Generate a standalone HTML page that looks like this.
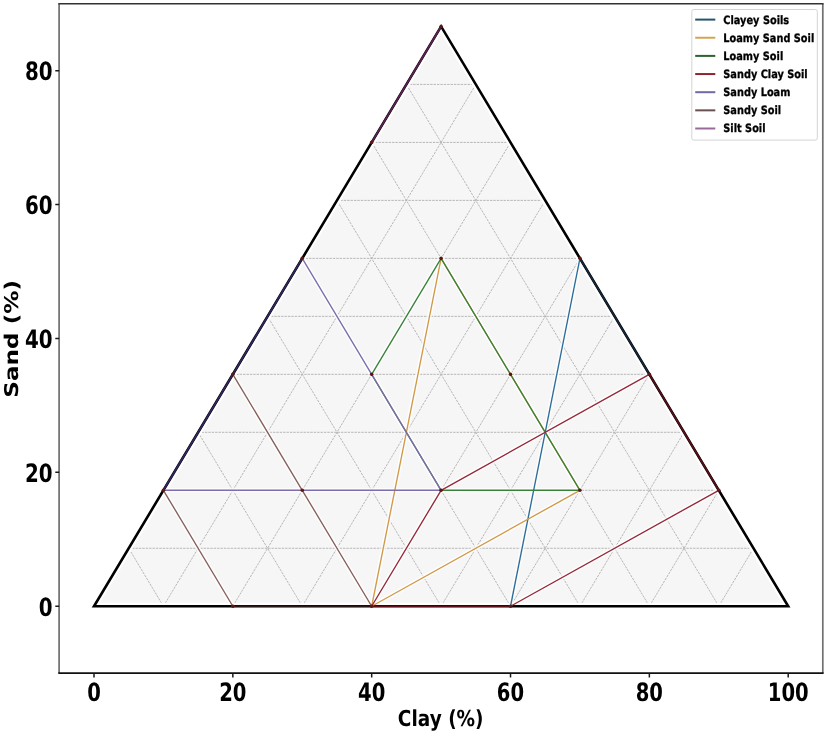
<!DOCTYPE html>
<html><head><meta charset="utf-8"><title>Soil Texture Triangle</title>
<style>html,body{margin:0;padding:0;background:#fff;}svg{display:block;}</style>
</head><body>
<svg width="827" height="735" viewBox="0 0 827 735">
<rect x="0" y="0" width="827" height="735" fill="#ffffff"/>
<polygon points="94.00,606.25 788.20,606.25 441.10,26.45" fill="#f6f6f6" stroke="none"/>
<path d="M128.71 548.27L753.49 548.27M163.42 606.25L475.81 84.43M163.42 606.25L128.71 548.27M163.42 490.29L718.78 490.29M232.84 606.25L510.52 142.41M232.84 606.25L163.42 490.29M198.13 432.31L684.07 432.31M302.26 606.25L545.23 200.39M302.26 606.25L198.13 432.31M232.84 374.33L649.36 374.33M371.68 606.25L579.94 258.37M371.68 606.25L232.84 374.33M267.55 316.35L614.65 316.35M441.10 606.25L614.65 316.35M441.10 606.25L267.55 316.35M302.26 258.37L579.94 258.37M510.52 606.25L649.36 374.33M510.52 606.25L302.26 258.37M336.97 200.39L545.23 200.39M579.94 606.25L684.07 432.31M579.94 606.25L336.97 200.39M371.68 142.41L510.52 142.41M649.36 606.25L718.78 490.29M649.36 606.25L371.68 142.41M406.39 84.43L475.81 84.43M718.78 606.25L753.49 548.27M718.78 606.25L406.39 84.43" fill="none" stroke="#b0b0b0" stroke-width="1.0" stroke-dasharray="2.4 1.0" stroke-opacity="0.9"/>
<polygon points="94.00,606.25 788.20,606.25 441.10,26.45" fill="none" stroke="#fff" stroke-width="7" stroke-linejoin="miter"/>
<polyline points="510.52,606.25 579.94,258.37" fill="none" stroke="#fff" stroke-opacity="0.8" stroke-width="4.5" stroke-linejoin="round"/>
<polyline points="371.68,606.25 441.10,258.37 579.94,490.29 371.68,606.25" fill="none" stroke="#fff" stroke-opacity="0.8" stroke-width="4.5" stroke-linejoin="round"/>
<polyline points="441.10,490.29 371.68,374.33 441.10,258.37 510.52,374.33 579.94,490.29 441.10,490.29" fill="none" stroke="#fff" stroke-opacity="0.8" stroke-width="4.5" stroke-linejoin="round"/>
<polyline points="371.68,606.25 441.10,490.29 649.36,374.33" fill="none" stroke="#fff" stroke-opacity="0.8" stroke-width="4.5" stroke-linejoin="round"/>
<polyline points="718.78,490.29 510.52,606.25" fill="none" stroke="#fff" stroke-opacity="0.8" stroke-width="4.5" stroke-linejoin="round"/>
<polyline points="302.26,258.37 371.68,374.33 441.10,490.29 163.42,490.29" fill="none" stroke="#fff" stroke-opacity="0.8" stroke-width="4.5" stroke-linejoin="round"/>
<polyline points="232.84,374.33 302.26,490.29 371.68,606.25" fill="none" stroke="#fff" stroke-opacity="0.8" stroke-width="4.5" stroke-linejoin="round"/>
<polyline points="232.84,606.25 163.42,490.29" fill="none" stroke="#fff" stroke-opacity="0.8" stroke-width="4.5" stroke-linejoin="round"/>
<polygon points="94.00,606.25 788.20,606.25 441.10,26.45" fill="none" stroke="#000" stroke-width="2.6" stroke-linejoin="miter"/>
<polyline points="510.52,606.25 579.94,258.37" fill="none" stroke="#2c6e9a" stroke-width="1.35" stroke-linejoin="round"/>
<polyline points="579.94,258.37 649.36,374.33" fill="none" stroke="#15283a" stroke-width="1.7" stroke-linejoin="round"/>
<polyline points="371.68,606.25 441.10,258.37 579.94,490.29 371.68,606.25" fill="none" stroke="#d19a4a" stroke-width="1.35" stroke-linejoin="round"/>
<polyline points="441.10,490.29 371.68,374.33 441.10,258.37 510.52,374.33 579.94,490.29 441.10,490.29" fill="none" stroke="#3a823a" stroke-width="1.35" stroke-linejoin="round"/>
<polyline points="371.68,606.25 441.10,490.29 649.36,374.33" fill="none" stroke="#952839" stroke-width="1.35" stroke-linejoin="round"/>
<polyline points="718.78,490.29 510.52,606.25" fill="none" stroke="#952839" stroke-width="1.35" stroke-linejoin="round"/>
<polyline points="649.36,374.33 718.78,490.29" fill="none" stroke="#5a0f18" stroke-width="1.7" stroke-linejoin="round"/>
<polyline points="371.68,606.25 510.52,606.25" fill="none" stroke="#5a0f18" stroke-width="1.7" stroke-linejoin="round"/>
<polyline points="302.26,258.37 371.68,374.33 441.10,490.29 163.42,490.29" fill="none" stroke="#7d6daf" stroke-width="1.35" stroke-linejoin="round"/>
<polyline points="232.84,374.33 302.26,490.29 371.68,606.25" fill="none" stroke="#86605a" stroke-width="1.35" stroke-linejoin="round"/>
<polyline points="232.84,606.25 163.42,490.29" fill="none" stroke="#86605a" stroke-width="1.35" stroke-linejoin="round"/>
<polyline points="232.84,606.25 371.68,606.25" fill="none" stroke="#2a1816" stroke-width="1.7" stroke-linejoin="round"/>
<polyline points="163.42,490.29 302.26,258.37" fill="none" stroke="#33255e" stroke-width="1.7" stroke-linejoin="round"/>
<polyline points="371.68,142.41 441.10,26.45" fill="none" stroke="#5e2252" stroke-width="1.7" stroke-linejoin="round"/>
<circle cx="371.68" cy="606.25" r="1.8" fill="#5e1612"/>
<circle cx="510.52" cy="606.25" r="1.8" fill="#5e1612"/>
<circle cx="579.94" cy="258.37" r="1.8" fill="#5e1612"/>
<circle cx="649.36" cy="374.33" r="1.8" fill="#5e1612"/>
<circle cx="718.78" cy="490.29" r="1.8" fill="#5e1612"/>
<circle cx="441.10" cy="490.29" r="1.8" fill="#5e1612"/>
<circle cx="579.94" cy="490.29" r="1.8" fill="#5e1612"/>
<circle cx="441.10" cy="258.37" r="1.8" fill="#5e1612"/>
<circle cx="371.68" cy="374.33" r="1.8" fill="#5e1612"/>
<circle cx="510.52" cy="374.33" r="1.8" fill="#5e1612"/>
<circle cx="302.26" cy="258.37" r="1.8" fill="#5e1612"/>
<circle cx="163.42" cy="490.29" r="1.8" fill="#5e1612"/>
<circle cx="302.26" cy="490.29" r="1.8" fill="#5e1612"/>
<circle cx="232.84" cy="374.33" r="1.8" fill="#5e1612"/>
<circle cx="232.84" cy="606.25" r="1.8" fill="#5e1612"/>
<circle cx="371.68" cy="142.41" r="1.8" fill="#5e1612"/>
<circle cx="441.10" cy="26.45" r="1.8" fill="#5e1612"/>
<path d="M59.1 3.7L59.1 673.2M822.8 3.7L822.8 673.2" fill="none" stroke="#707070" stroke-width="1.7"/>
<path d="M58.3 3.7L823.6 3.7" fill="none" stroke="#333" stroke-width="1.4"/>
<path d="M58.3 673.1L823.6 673.1" fill="none" stroke="#111" stroke-width="1.6"/>
<path d="M94.00 673.2L94.00 677.4M232.84 673.2L232.84 677.4M371.68 673.2L371.68 677.4M510.52 673.2L510.52 677.4M649.36 673.2L649.36 677.4M788.20 673.2L788.20 677.4M55.3 606.25L59.2 606.25M55.3 472.35L59.2 472.35M55.3 338.45L59.2 338.45M55.3 204.55L59.2 204.55M55.3 70.65L59.2 70.65" stroke="#1a1a1a" stroke-width="1.5" fill="none"/>
<text transform="translate(94.00,700.7) scale(0.775,1)" text-anchor="middle" font-family="'DejaVu Sans', 'Liberation Sans', sans-serif" font-weight="bold" text-rendering="geometricPrecision" font-size="25.3" fill="#000">0</text>
<text transform="translate(232.84,700.7) scale(0.775,1)" text-anchor="middle" font-family="'DejaVu Sans', 'Liberation Sans', sans-serif" font-weight="bold" text-rendering="geometricPrecision" font-size="25.3" fill="#000">20</text>
<text transform="translate(371.68,700.7) scale(0.775,1)" text-anchor="middle" font-family="'DejaVu Sans', 'Liberation Sans', sans-serif" font-weight="bold" text-rendering="geometricPrecision" font-size="25.3" fill="#000">40</text>
<text transform="translate(510.52,700.7) scale(0.775,1)" text-anchor="middle" font-family="'DejaVu Sans', 'Liberation Sans', sans-serif" font-weight="bold" text-rendering="geometricPrecision" font-size="25.3" fill="#000">60</text>
<text transform="translate(649.36,700.7) scale(0.775,1)" text-anchor="middle" font-family="'DejaVu Sans', 'Liberation Sans', sans-serif" font-weight="bold" text-rendering="geometricPrecision" font-size="25.3" fill="#000">80</text>
<text transform="translate(788.20,700.7) scale(0.775,1)" text-anchor="middle" font-family="'DejaVu Sans', 'Liberation Sans', sans-serif" font-weight="bold" text-rendering="geometricPrecision" font-size="25.3" fill="#000">100</text>
<text transform="translate(52.6,615.55) scale(0.785,1)" text-anchor="end" font-family="'DejaVu Sans', 'Liberation Sans', sans-serif" font-weight="bold" text-rendering="geometricPrecision" font-size="25.3" fill="#000">0</text>
<text transform="translate(52.6,481.65) scale(0.785,1)" text-anchor="end" font-family="'DejaVu Sans', 'Liberation Sans', sans-serif" font-weight="bold" text-rendering="geometricPrecision" font-size="25.3" fill="#000">20</text>
<text transform="translate(52.6,347.75) scale(0.785,1)" text-anchor="end" font-family="'DejaVu Sans', 'Liberation Sans', sans-serif" font-weight="bold" text-rendering="geometricPrecision" font-size="25.3" fill="#000">40</text>
<text transform="translate(52.6,213.85) scale(0.785,1)" text-anchor="end" font-family="'DejaVu Sans', 'Liberation Sans', sans-serif" font-weight="bold" text-rendering="geometricPrecision" font-size="25.3" fill="#000">60</text>
<text transform="translate(52.6,79.95) scale(0.785,1)" text-anchor="end" font-family="'DejaVu Sans', 'Liberation Sans', sans-serif" font-weight="bold" text-rendering="geometricPrecision" font-size="25.3" fill="#000">80</text>
<text transform="translate(440.7,726.1) scale(0.84,1)" text-anchor="middle" font-family="'DejaVu Sans', 'Liberation Sans', sans-serif" font-weight="bold" text-rendering="geometricPrecision" font-size="22" fill="#000">Clay (%)</text>
<text transform="translate(17.6,338.8) rotate(-90) scale(1.052,0.86)" text-anchor="middle" font-family="'DejaVu Sans', 'Liberation Sans', sans-serif" font-weight="bold" text-rendering="geometricPrecision" font-size="22" fill="#000">Sand (%)</text>
<rect x="691.8" y="9.5" width="125.5" height="130.6" rx="2" ry="2" fill="#fff" fill-opacity="0.8" stroke="#d4d4d4" stroke-width="1"/>
<line x1="695.2" y1="19.60" x2="715.3" y2="19.60" stroke="#22546a" stroke-width="2"/>
<text transform="translate(723.3,23.50) scale(0.85,1)" font-family="'DejaVu Sans', 'Liberation Sans', sans-serif" font-weight="bold" text-rendering="geometricPrecision" font-size="11.5" fill="#000" stroke="#000" stroke-width="0.3">Clayey Soils</text>
<line x1="695.2" y1="37.75" x2="715.3" y2="37.75" stroke="#d4a455" stroke-width="2"/>
<text transform="translate(723.3,41.65) scale(0.85,1)" font-family="'DejaVu Sans', 'Liberation Sans', sans-serif" font-weight="bold" text-rendering="geometricPrecision" font-size="11.5" fill="#000" stroke="#000" stroke-width="0.3">Loamy Sand Soil</text>
<line x1="695.2" y1="55.90" x2="715.3" y2="55.90" stroke="#2e622e" stroke-width="2"/>
<text transform="translate(723.3,59.80) scale(0.85,1)" font-family="'DejaVu Sans', 'Liberation Sans', sans-serif" font-weight="bold" text-rendering="geometricPrecision" font-size="11.5" fill="#000" stroke="#000" stroke-width="0.3">Loamy Soil</text>
<line x1="695.2" y1="74.05" x2="715.3" y2="74.05" stroke="#8c2432" stroke-width="2"/>
<text transform="translate(723.3,77.95) scale(0.85,1)" font-family="'DejaVu Sans', 'Liberation Sans', sans-serif" font-weight="bold" text-rendering="geometricPrecision" font-size="11.5" fill="#000" stroke="#000" stroke-width="0.3">Sandy Clay Soil</text>
<line x1="695.2" y1="92.20" x2="715.3" y2="92.20" stroke="#7268a6" stroke-width="2"/>
<text transform="translate(723.3,96.10) scale(0.85,1)" font-family="'DejaVu Sans', 'Liberation Sans', sans-serif" font-weight="bold" text-rendering="geometricPrecision" font-size="11.5" fill="#000" stroke="#000" stroke-width="0.3">Sandy Loam</text>
<line x1="695.2" y1="110.35" x2="715.3" y2="110.35" stroke="#6a5050" stroke-width="2"/>
<text transform="translate(723.3,114.25) scale(0.85,1)" font-family="'DejaVu Sans', 'Liberation Sans', sans-serif" font-weight="bold" text-rendering="geometricPrecision" font-size="11.5" fill="#000" stroke="#000" stroke-width="0.3">Sandy Soil</text>
<line x1="695.2" y1="128.50" x2="715.3" y2="128.50" stroke="#9a6a9c" stroke-width="2"/>
<text transform="translate(723.3,132.40) scale(0.85,1)" font-family="'DejaVu Sans', 'Liberation Sans', sans-serif" font-weight="bold" text-rendering="geometricPrecision" font-size="11.5" fill="#000" stroke="#000" stroke-width="0.3">Silt Soil</text>
</svg>
</body></html>
